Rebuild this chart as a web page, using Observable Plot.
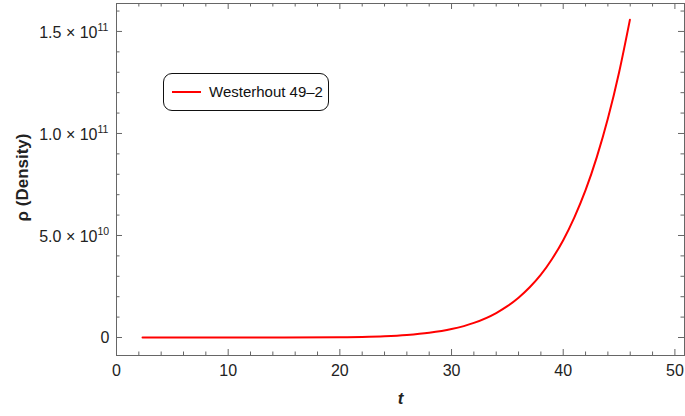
<!DOCTYPE html>
<html>
<head>
<meta charset="utf-8">
<script src="https://cdn.jsdelivr.net/npm/d3@7"></script>
<script src="https://cdn.jsdelivr.net/npm/@observablehq/plot@0.6"></script>
<style>
  body { margin: 0; background: #fff; }
  #wrap { position: relative; width: 685px; height: 416px; font-family: "Liberation Sans", Arial, sans-serif; }
  #legend { position: absolute; left: 163px; top: 73px; width: 164px; height: 36px; border: 1.6px solid #111; border-radius: 9px; background: #fff; box-sizing: content-box; }
  #legend .sw { position: absolute; left: 8px; top: 17px; width: 29px; height: 2px; background: #ff0000; }
  #legend .lb { position: absolute; left: 45px; top: 9px; font-size: 15px; color: #111; white-space: nowrap; }
</style>
</head>
<body>
<div id="wrap"></div>
<script>
// Data
const tValues = [2.33, 5, 10, 15, 20, 22, 24, 26, 28, 30, 32, 34, 35, 36, 37, 38, 39, 40, 41, 42, 43, 44, 45, 45.97];
const rhoValues = [0, 0, 0.0004e9, 0.011e9, 0.13e9, 0.30e9, 0.62e9, 1.23e9, 2.30e9, 4.13e9, 7.16e9, 12.0e9, 15.35e9, 19.5e9, 24.6e9, 30.8e9, 38.5e9, 47.7e9, 58.9e9, 72.2e9, 88.3e9, 107.3e9, 129.9e9, 155.7e9];
const seriesName = "Westerhout 49\u20132";

const xMajor = [0, 10, 20, 30, 40, 50];
const xMinor = [2, 4, 6, 8, 12, 14, 16, 18, 22, 24, 26, 28, 32, 34, 36, 38, 42, 44, 46, 48];
const xTickLabels = ["0", "10", "20", "30", "40", "50"];
const yMajor = [0, 5e10, 1e11, 1.5e11];
const yMinor = [1e10, 2e10, 3e10, 4e10, 6e10, 7e10, 8e10, 9e10, 1.1e11, 1.2e11, 1.3e11, 1.4e11, 1.6e11];
const yTickMantissa = ["0", "5.0 \u00d7 10", "1.0 \u00d7 10", "1.5 \u00d7 10"];
const yTickExponent = ["", "10", "11", "11"];

const data = tValues.map((t, i) => ({t, rho: rhoValues[i]}));
const yLab = yMajor.map((v, i) => ({v, m: yTickMantissa[i], e: yTickExponent[i]}));
const xLab = xMajor.map((v, i) => ({v, s: xTickLabels[i]}));

const W = 685, H = 416, mL = 116, mR = 1, mT = 3, mB = 61;
const iW = W - mL - mR, iH = H - mT - mB;
const frameColor = "#666";
const font = "Liberation Sans, Arial, sans-serif";

const plot = Plot.plot({
  width: W, height: H,
  marginLeft: mL, marginRight: mR, marginTop: mT, marginBottom: mB,
  style: {fontFamily: font, background: "#fff"},
  x: {domain: [0, 50.86], axis: null},
  y: {domain: [-8.82e9, 1.637e11], axis: null},
  marks: [
    Plot.frame({stroke: frameColor, strokeWidth: 1}),
    // bottom ticks
    Plot.ruleX(xMajor, {x: d => d, insetTop: iH - 6, stroke: frameColor}),
    Plot.ruleX(xMinor, {x: d => d, insetTop: iH - 3.5, stroke: frameColor}),
    // top ticks
    Plot.ruleX(xMajor, {x: d => d, insetBottom: iH - 6, stroke: frameColor}),
    Plot.ruleX(xMinor, {x: d => d, insetBottom: iH - 3.5, stroke: frameColor}),
    // left ticks
    Plot.ruleY(yMajor, {y: d => d, insetRight: iW - 6, stroke: frameColor}),
    Plot.ruleY(yMinor, {y: d => d, insetRight: iW - 3.5, stroke: frameColor}),
    // right ticks
    Plot.ruleY(yMajor, {y: d => d, insetLeft: iW - 6, stroke: frameColor}),
    Plot.ruleY(yMinor, {y: d => d, insetLeft: iW - 3.5, stroke: frameColor}),
    // data
    Plot.line(data, {x: "t", y: "rho", stroke: "#ff0000", strokeWidth: 2, curve: "monotone-x"}),
    // x tick labels
    Plot.text(xLab, {x: "v", text: "s", frameAnchor: "bottom", dy: 15, fontSize: 16, fill: "#222", lineAnchor: "middle"}),
    // y tick labels
    Plot.text(yLab.filter(d => d.e === ""), {y: "v", text: "m", frameAnchor: "left", dx: -7, textAnchor: "end", fontSize: 16, fill: "#222"}),
    Plot.text(yLab.filter(d => d.e !== ""), {y: "v", text: "m", frameAnchor: "left", dx: -19, dy: 1, textAnchor: "end", fontSize: 16, fill: "#222"}),
    Plot.text(yLab.filter(d => d.e !== ""), {y: "v", text: "e", frameAnchor: "left", dx: -19, dy: -4, textAnchor: "start", fontSize: 10.5, fill: "#222"}),
    // axis labels
    Plot.text(["t"], {text: d => d, frameAnchor: "bottom", dy: 48, fontSize: 17, fontWeight: "bold", fontStyle: "italic", fill: "#222"}),
    Plot.text(["\u03c1 (Density)"], {text: d => d, frameAnchor: "left", textAnchor: "middle", dx: -94, dy: -2, rotate: -90, fontSize: 17, fontWeight: "bold", fill: "#222"})
  ]
});

const wrap = document.getElementById("wrap");
wrap.appendChild(plot);
const lg = document.createElement("div");
lg.id = "legend";
lg.innerHTML = '<div class="sw"></div><div class="lb"></div>';
lg.querySelector(".lb").textContent = seriesName;
wrap.appendChild(lg);
</script>
</body>
</html>
